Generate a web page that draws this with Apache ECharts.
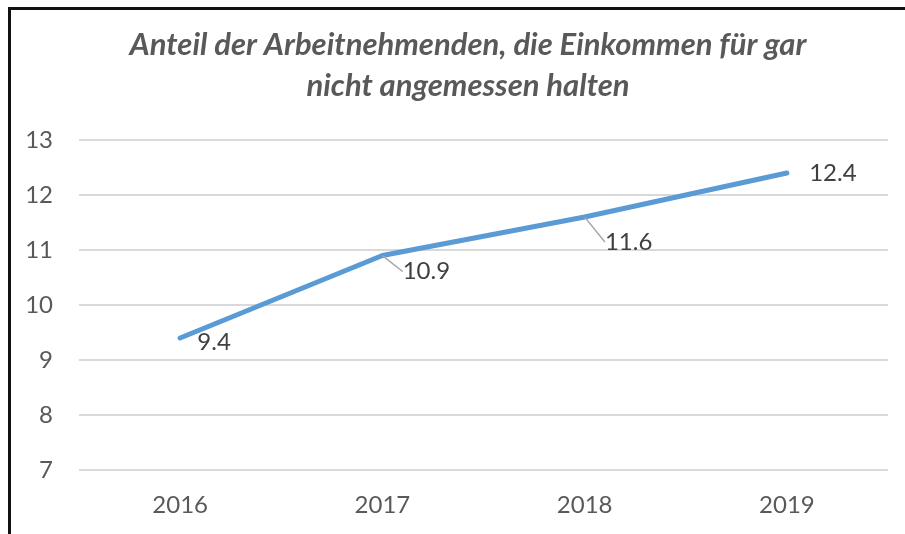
<!DOCTYPE html>
<html>
<head>
<meta charset="utf-8">
<script src="https://cdn.jsdelivr.net/npm/echarts@6/dist/echarts.min.js"></script>
<style>
  html, body { margin: 0; padding: 0; background: #fff; }
  #wrap { position: relative; width: 905px; height: 534px; }
  #chart { position: absolute; left: 0; top: 0; width: 905px; height: 534px; }
  #frame {
    position: absolute; left: 8px; top: 7px; right: 0; bottom: 0;
    border-top: 3px solid #111; border-left: 3px solid #111;
    pointer-events: none;
  }
</style>
</head>
<body>
<div id="wrap">
  <div id="chart"></div>
  <div id="frame"></div>
</div>
<script>
const titleText = 'Anteil der Arbeitnehmenden, die Einkommen für gar\nnicht angemessen halten'
const years = ['2016', '2017', '2018', '2019']
const shareValues = [9.4, 10.9, 11.6, 12.4]
// label shift from each point, Excel placed them by hand
const labelOffsets = [[34, 4], [44, 16], [44, 25], [46, 0]]
const withLeader = [false, true, true, false]

const chart = echarts.init(document.getElementById('chart'))

const seriesData = shareValues.map((v, i) => ({
  value: v,
  labelLine: { show: withLeader[i] }
}))

chart.setOption({
  animation: false,
  title: {
    text: titleText,
    left: 463,
    top: 19,
    textAlign: 'center',
    textStyle: {
      fontFamily: 'Lato',
      fontStyle: 'italic',
      fontWeight: 'bold',
      fontSize: 31,
      lineHeight: 41,
      color: '#595959'
    }
  },
  grid: {
    left: 79,
    right: 17,
    top: 140,
    bottom: 64
  },
  xAxis: {
    type: 'category',
    data: years,
    boundaryGap: true,
    axisLine: { show: false },
    axisTick: { show: false },
    axisLabel: {
      margin: 23,
      fontFamily: 'Lato',
      fontSize: 24,
      color: '#595959'
    }
  },
  yAxis: {
    type: 'value',
    min: 7,
    max: 13,
    interval: 1,
    axisLine: { show: false },
    axisTick: { show: false },
    splitLine: { lineStyle: { color: '#d9d9d9', width: 2 } },
    axisLabel: {
      margin: 26,
      fontFamily: 'Lato',
      fontSize: 24,
      color: '#595959'
    }
  },
  series: [{
    type: 'line',
    data: seriesData,
    symbol: 'circle',
    symbolSize: 1,
    itemStyle: { color: 'rgba(0,0,0,0)' },
    lineStyle: { color: '#5b9bd5', width: 5, cap: 'round' },
    label: {
      show: true,
      position: 'inside',
      fontFamily: 'Lato',
      fontSize: 24,
      color: '#404040'
    },
    labelLine: {
      show: false,
      lineStyle: { color: '#a6a6a6', width: 1.5 }
    },
    labelLayout: function (params) {
      const off = labelOffsets[params.dataIndex]
      return { dx: off[0], dy: off[1], hideOverlap: false }
    }
  }]
})
</script>
</body>
</html>
